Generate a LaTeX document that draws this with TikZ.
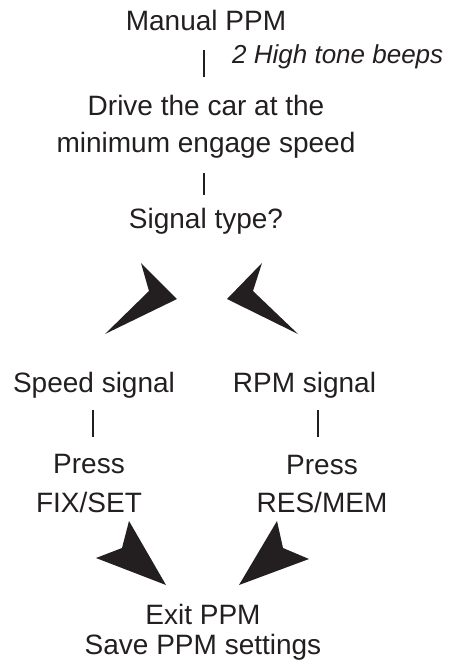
\documentclass[tikz,border=0pt]{standalone}
\usepackage{fontspec}
\setmainfont{Liberation Sans}
\definecolor{ink}{HTML}{231F20}
\tikzset{
  txt/.style={inner sep=0pt, text=ink, align=center, anchor=base},
  link/.style={draw=ink, line width=2.5pt},
}
\begin{document}
\begin{tikzpicture}[x=1pt, y=-1pt, font=\fontsize{28}{37}\selectfont]
    \useasboundingbox (0,0) rectangle (466,670);

    % inicio
    \node[txt] (manual) at (206,30) {Manual PPM};
    \node[txt, anchor=base west, font=\fontsize{26}{30}\selectfont\itshape] (beeps) at (232,63) {2 High tone beeps};
    \node[txt] (drive) at (206,152) {Drive the car at the\\minimum engage speed};
    \node[txt] (signal) at (206,228) {Signal type?};
    \draw[link, shorten <=20pt, shorten >=18pt] ([xshift=-2pt]manual.south) -- ([xshift=-2pt]manual.south |- drive.north);
    \draw[link, shorten <=15pt, shorten >=13pt] ([xshift=-2pt]drive.south) -- ([xshift=-2pt]drive.south |- signal.north);

    % setas de cima
    \fill[ink] (177,299) -- (141,263) -- (149,291) -- (105,334) -- cycle;
    \fill[ink] (227,299) -- (262,263) -- (253,291) -- (298,334) -- cycle;

    % sinais
    \node[txt] (speed) at (94,392) {Speed signal};
    \node[txt] (rpm) at (304.5,392) {RPM signal};
    \node[txt, font=\fontsize{28}{39}\selectfont] (pressfix) at (89,512) {Press\\FIX/SET};
    \node[txt, font=\fontsize{28}{38}\selectfont] (pressres) at (322,512) {Press\\RES/MEM};
    \draw[link, shorten <=12pt, shorten >=17pt] ([xshift=-1pt]speed.south) -- ([xshift=-1pt]speed.south |- pressfix.north);
    \draw[link, shorten <=12pt, shorten >=18pt] ([xshift=-4pt]pressres.north |- rpm.south) -- ([xshift=-4pt]pressres.north);

    % setas de baixo
    \fill[ink] (166,585) -- (129,521) -- (122,548) -- (96,558) -- cycle;
    \fill[ink] (239,585) -- (277,521) -- (283,548) -- (309,559) -- cycle;

    % fim
    \node[txt, font=\fontsize{28}{30}\selectfont] (exit) at (203,654) {Exit PPM\\Save PPM settings};
\end{tikzpicture}
\end{document}
